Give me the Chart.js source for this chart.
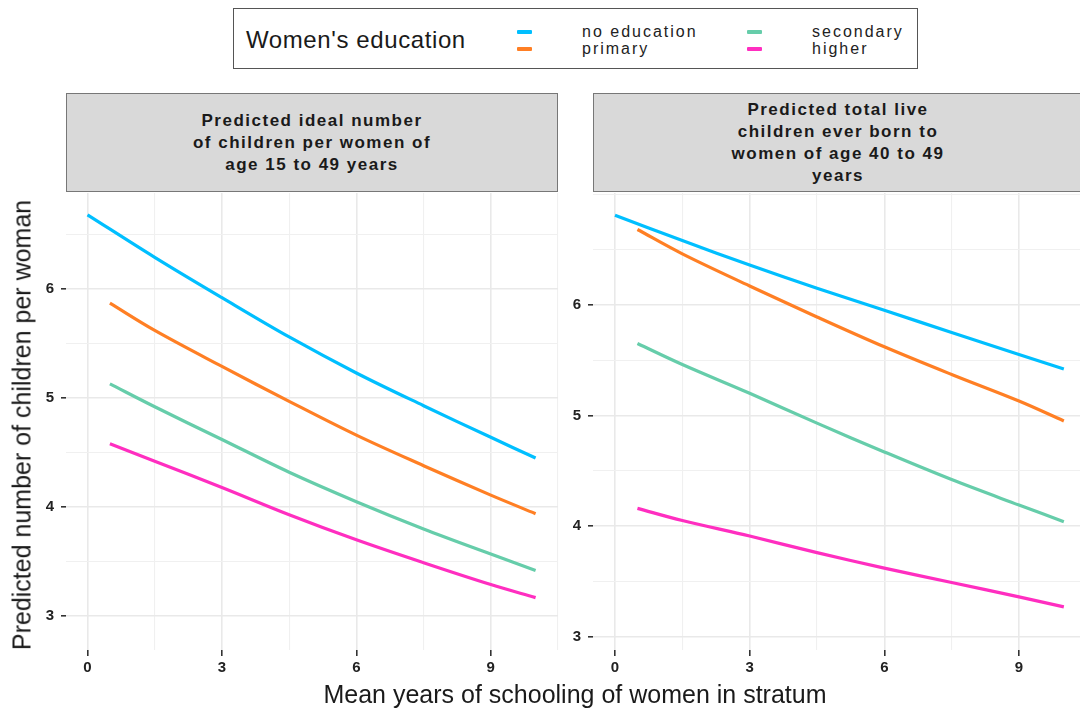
<!DOCTYPE html>
<html>
<head>
<meta charset="utf-8">
<script src="https://cdn.jsdelivr.net/npm/chart.js@4/dist/chart.umd.min.js"></script>
<style>
  body { margin: 0; width: 1080px; height: 711px; background: #fff; position: relative; overflow: hidden;
         font-family: "Liberation Sans", Arial, sans-serif; color: #1a1a1a; }
  .abs { position: absolute; }
  #legend { left: 233px; top: 8px; width: 683px; height: 59px; border: 1px solid #555; }
  #legTitle { left: 12px; top: 17px; font-size: 24px; line-height: 28px; letter-spacing: 0.6px; }
  .key { width: 15px; height: 4px; border-radius: 1px; }
  .lab { font-size: 16px; line-height: 18px; letter-spacing: 2px; color: #222; }
  .strip { top: 93px; height: 99px; background: #d9d9d9; border: 1px solid #777; box-sizing: border-box;
           display: flex; align-items: center; justify-content: center; text-align: center;
           font-weight: bold; font-size: 17px; line-height: 22px; letter-spacing: 1.5px; color: #1a1a1a; }
  canvas { position: absolute; }
  #xTitle { left: 0; width: 1150px; top: 680px; text-align: center; font-size: 25px; line-height: 28px; }
  #yTitle { left: 22px; top: 425px; font-size: 25px; white-space: nowrap; transform: translate(-50%, -50%) rotate(-90deg); }
</style>
</head>
<body>
<div id="legend" class="abs">
  <div id="legTitle" class="abs">Women's education</div>
</div>
<div class="abs strip" style="left:66px;width:492px;">Predicted ideal number<br>of children per women of<br>age 15 to 49 years</div>
<div class="abs strip" style="left:593px;width:490px;">Predicted total live<br>children ever born to<br>women of age 40 to 49<br>years</div>
<canvas id="chartLeft" width="560" height="490" style="left:0;top:193px;"></canvas>
<canvas id="chartRight" width="553" height="490" style="left:527px;top:193px;"></canvas>
<div id="xTitle" class="abs">Mean years of schooling of women in stratum</div>
<div id="yTitle" class="abs">Predicted number of children per woman</div>
<script>
// --- du lieu doc tu hinh ---
const groups = ['no education', 'primary', 'secondary', 'higher'];
const colors = ['#00BFFF', '#FF7F24', '#66CDAA', '#FF2EC0'];

// gia tri x (so nam di hoc trung binh)
const xNoEd = [0, 1.5, 3, 4.5, 6, 7.5, 9, 10];
const xOther = [0.5, 1.5, 3, 4.5, 6, 7.5, 9, 10];

// panel trai: so con ly tuong
const idealNoEd = [6.68, 6.29, 5.92, 5.56, 5.23, 4.93, 4.64, 4.45];
const idealPrimary = [5.87, 5.62, 5.29, 4.97, 4.66, 4.38, 4.11, 3.94];
const idealSecondary = [5.13, 4.92, 4.62, 4.32, 4.05, 3.80, 3.57, 3.42];
const idealHigher = [4.58, 4.42, 4.18, 3.93, 3.70, 3.49, 3.29, 3.17];

// panel phai: tong so con sinh ra
const totalNoEd = [6.81, 6.58, 6.36, 6.15, 5.95, 5.75, 5.55, 5.42];
const totalPrimary = [6.68, 6.46, 6.17, 5.89, 5.62, 5.37, 5.13, 4.95];
const totalSecondary = [5.65, 5.46, 5.20, 4.93, 4.67, 4.42, 4.19, 4.04];
const totalHigher = [4.16, 4.05, 3.91, 3.76, 3.62, 3.49, 3.36, 3.27];

const xMajorTicks = [0, 3, 6, 9];
const yMajorTicks = [3, 4, 5, 6];

// --- legend (HTML) ---
const legend = document.getElementById('legend');
const legendPos = [
    { keyX: 283, labX: 348, y: 23 },
    { keyX: 283, labX: 348, y: 40 },
    { keyX: 513, labX: 578, y: 23 },
    { keyX: 513, labX: 578, y: 40 }
];
groups.forEach((g, i) => {
    const p = legendPos[i];
    const key = document.createElement('div');
    key.className = 'abs key';
    key.style.left = p.keyX + 'px';
    key.style.top = (p.y - 2) + 'px';
    key.style.background = colors[i];
    legend.appendChild(key);
    const lab = document.createElement('div');
    lab.className = 'abs lab';
    lab.style.left = p.labX + 'px';
    lab.style.top = (p.y - 9) + 'px';
    lab.textContent = g;
    legend.appendChild(lab);
});

function makeSeries(xs, ys) {
    return xs.map((x, i) => ({ x: x, y: ys[i] }));
}

function isMajor(v, list) {
    return list.some(m => Math.abs(m - v) < 1e-6);
}

function axisOpts(majors, step, min, max, tickLen, pad) {
    return {
        type: 'linear',
        min: min,
        max: max,
        border: { display: false },
        grid: {
            color: c => isMajor(c.tick.value, majors) ? '#e9e9e9' : '#f0f0f0',
            lineWidth: c => isMajor(c.tick.value, majors) ? 1.6 : 1.1,
            tickColor: c => isMajor(c.tick.value, majors) ? '#333' : 'rgba(0,0,0,0)',
            tickLength: tickLen,
            drawTicks: true
        },
        ticks: {
            stepSize: step,
            includeBounds: false,
            autoSkip: false,
            maxRotation: 0,
            padding: pad,
            color: '#222',
            font: { family: '"Liberation Sans", Arial, sans-serif', size: 15, weight: 'bold' },
            callback: v => isMajor(v, majors) ? String(v) : ''
        }
    };
}

function buildChart(id, seriesX, seriesY, xMin, xMax, yMin, yMax, padRight) {
    const datasets = seriesY.map((ys, i) => ({
        label: groups[i],
        data: makeSeries(seriesX[i], ys),
        borderColor: colors[i],
        backgroundColor: colors[i],
        borderWidth: 3.2,
        pointRadius: 0,
        tension: 0.35,
        fill: false
    }));
    const xAxis = axisOpts(xMajorTicks, 1.5, xMin, xMax, 6, 3);
    // bo phan padding tu dong de vung ve khop voi hinh goc
    xAxis.afterFit = s => { s.height = 33; s.paddingLeft = 0; s.paddingRight = 0; };
    const yAxis = axisOpts(yMajorTicks, 0.5, yMin, yMax, 5, 7);
    yAxis.afterFit = s => { s.width = 66; s.paddingTop = 0; s.paddingBottom = 0; };
    return new Chart(document.getElementById(id), {
        type: 'line',
        data: { datasets: datasets },
        options: {
            responsive: false,
            animation: false,
            devicePixelRatio: 1,
            layout: { padding: { left: 0, right: padRight, top: 0, bottom: 0 } },
            plugins: { legend: { display: false }, tooltip: { enabled: false } },
            scales: { x: xAxis, y: yAxis }
        }
    });
}

buildChart('chartLeft',
    [xNoEd, xOther, xOther, xOther],
    [idealNoEd, idealPrimary, idealSecondary, idealHigher],
    -0.48, 10.5, 2.69, 6.88, 2);

buildChart('chartRight',
    [xNoEd, xOther, xOther, xOther],
    [totalNoEd, totalPrimary, totalSecondary, totalHigher],
    -0.49, 10.36, 2.88, 7.01, 0);
</script>
</body>
</html>
